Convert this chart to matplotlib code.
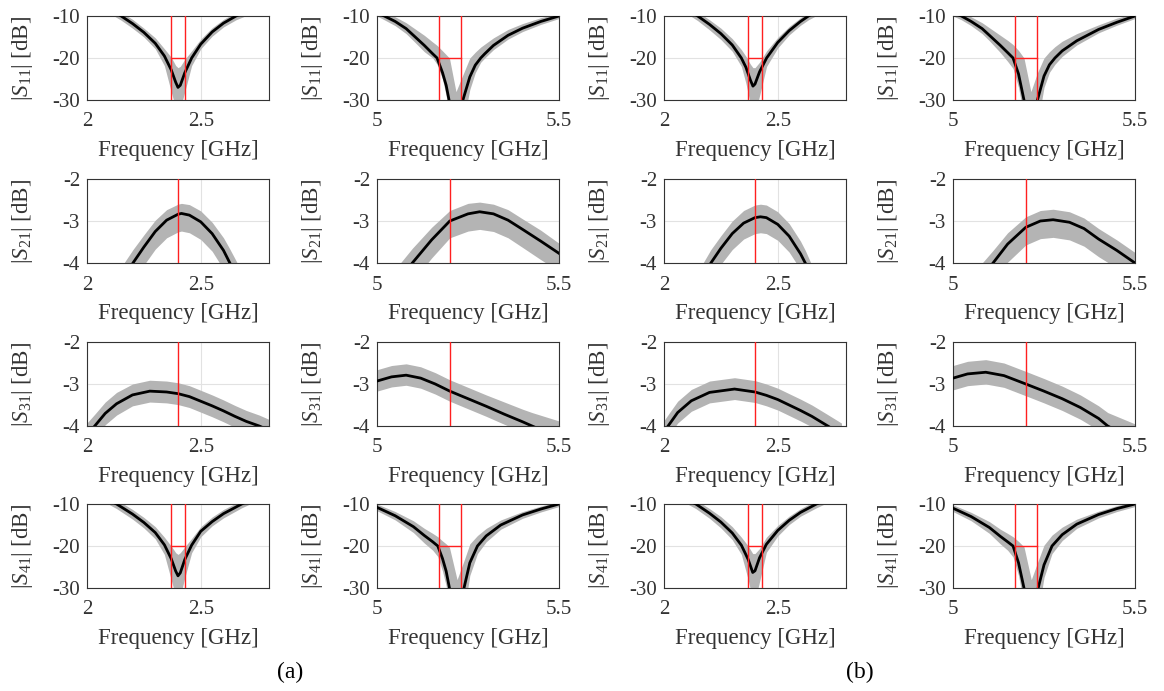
import matplotlib
matplotlib.use('Agg')
from matplotlib import pyplot as plt

plt.rcParams['font.family'] = 'Liberation Serif'
plt.rcParams['mathtext.fontset'] = 'custom'
plt.rcParams['mathtext.rm'] = 'Liberation Serif'
plt.rcParams['mathtext.it'] = 'Liberation Serif:italic'
plt.rcParams['axes.unicode_minus'] = False

# ---- (a) 2.4 GHz column ----
a24_s11_f = [2.10, 2.15, 2.20, 2.25, 2.30, 2.34, 2.37, 2.39, 2.40, 2.41, 2.43, 2.46, 2.50, 2.55, 2.60, 2.655, 2.70]
a24_s11_nom = [-8.3, -10.0, -11.8, -13.9, -16.5, -19.5, -22.8, -25.8, -27.0, -26.5, -23.5, -20.0, -16.7, -13.8, -11.7, -10.0, -8.8]
a24_s11_lo = [-9.4, -11.0, -12.9, -15.0, -17.8, -21.8, -28.0, -32.0, -33.0, -32.0, -28.0, -21.8, -17.8, -14.8, -12.6, -10.9, -9.9]
a24_s11_hi = [-7.3, -9.1, -10.8, -12.9, -15.2, -17.8, -19.8, -21.8, -22.3, -22.0, -20.3, -18.3, -15.5, -12.8, -10.8, -9.1, -7.8]

a24_s21_f = [2.10, 2.15, 2.202, 2.25, 2.30, 2.35, 2.40, 2.415, 2.45, 2.50, 2.55, 2.60, 2.628, 2.68, 2.72]
a24_s21_nom = [-5.0, -4.45, -4.0, -3.62, -3.25, -2.98, -2.84, -2.82, -2.86, -3.02, -3.3, -3.7, -4.0, -4.6, -5.1]
a24_s21_lo = [-5.5, -4.9, -4.45, -4.05, -3.67, -3.4, -3.26, -3.24, -3.28, -3.44, -3.72, -4.15, -4.45, -5.1, -5.6]
a24_s21_hi = [-4.6, -4.1, -3.68, -3.33, -2.98, -2.73, -2.6, -2.58, -2.61, -2.76, -3.03, -3.4, -3.67, -4.2, -4.7]

a24_s31_f = [1.98, 2.034, 2.08, 2.13, 2.20, 2.276, 2.35, 2.40, 2.45, 2.50, 2.55, 2.60, 2.65, 2.70, 2.757, 2.82]
a24_s31_nom = [-4.35, -4.0, -3.7, -3.47, -3.26, -3.17, -3.19, -3.23, -3.3, -3.41, -3.52, -3.64, -3.77, -3.89, -4.0, -4.15]
a24_s31_lo = [-4.65, -4.28, -3.97, -3.74, -3.52, -3.43, -3.45, -3.49, -3.56, -3.67, -3.78, -3.9, -4.03, -4.15, -4.26, -4.41]
a24_s31_hi = [-4.05, -3.72, -3.43, -3.2, -3.0, -2.91, -2.93, -2.97, -3.04, -3.15, -3.26, -3.38, -3.51, -3.63, -3.74, -3.89]

a24_s41_f = [2.08, 2.13, 2.20, 2.25, 2.30, 2.34, 2.37, 2.39, 2.40, 2.41, 2.43, 2.46, 2.50, 2.55, 2.60, 2.68, 2.72]
a24_s41_nom = [-8.6, -10.0, -12.4, -14.4, -16.8, -19.7, -23.0, -26.0, -27.1, -26.4, -23.2, -19.8, -16.5, -14.2, -12.3, -10.0, -9.0]
a24_s41_lo = [-9.6, -11.1, -13.6, -15.7, -18.3, -22.0, -28.0, -32.0, -33.0, -32.0, -27.5, -21.6, -17.8, -15.2, -13.3, -10.9, -9.9]
a24_s41_hi = [-7.7, -9.0, -11.3, -13.2, -15.4, -17.9, -20.0, -21.6, -22.0, -21.6, -20.2, -18.2, -15.4, -13.1, -11.3, -9.1, -8.1]

# ---- (a) 5.2 GHz column ----
a52_s11_f = [4.98, 5.00, 5.02, 5.05, 5.08, 5.10, 5.13, 5.153, 5.165, 5.18, 5.19, 5.199, 5.217, 5.236, 5.255, 5.27, 5.285, 5.296, 5.32, 5.36, 5.40, 5.45, 5.50]
a52_s11_nom = [-8.6, -9.2, -10.0, -11.3, -13.0, -14.6, -17.0, -19.0, -20.0, -23.5, -26.5, -30.5, -40.0, -30.0, -24.5, -21.7, -20.0, -19.0, -17.0, -14.6, -12.9, -11.3, -10.0]
a52_s11_lo = [-9.4, -10.0, -10.9, -12.3, -14.2, -15.9, -18.5, -20.0, -21.5, -25.0, -29.0, -33.0, -45.0, -36.0, -27.5, -23.5, -21.0, -20.0, -18.0, -15.5, -13.7, -12.0, -10.6]
a52_s11_hi = [-7.6, -8.2, -9.0, -10.2, -11.6, -12.8, -14.6, -16.2, -17.0, -18.3, -19.2, -20.0, -28.0, -24.0, -20.0, -18.6, -17.4, -16.7, -15.2, -13.2, -11.8, -10.4, -9.4]

a52_s21_f = [5.00, 5.05, 5.097, 5.15, 5.20, 5.25, 5.282, 5.32, 5.36, 5.40, 5.45, 5.50]
a52_s21_nom = [-5.2, -4.55, -4.0, -3.45, -3.0, -2.83, -2.78, -2.83, -2.98, -3.2, -3.48, -3.77]
a52_s21_lo = [-5.7, -5.0, -4.45, -3.88, -3.4, -3.24, -3.2, -3.25, -3.4, -3.63, -3.92, -4.2]
a52_s21_hi = [-4.75, -4.15, -3.65, -3.15, -2.75, -2.58, -2.55, -2.6, -2.73, -2.95, -3.22, -3.53]

a52_s31_f = [5.00, 5.04, 5.08, 5.12, 5.16, 5.20, 5.25, 5.30, 5.35, 5.40, 5.426, 5.50]
a52_s31_nom = [-2.93, -2.83, -2.79, -2.86, -3.0, -3.17, -3.35, -3.53, -3.72, -3.9, -4.0, -4.28]
a52_s31_lo = [-3.17, -3.07, -3.03, -3.1, -3.24, -3.41, -3.59, -3.77, -3.96, -4.14, -4.24, -4.52]
a52_s31_hi = [-2.66, -2.56, -2.52, -2.59, -2.73, -2.9, -3.08, -3.26, -3.43, -3.6, -3.68, -3.88]

a52_s41_f = [4.98, 5.00, 5.05, 5.10, 5.13, 5.153, 5.167, 5.18, 5.19, 5.199, 5.22, 5.239, 5.255, 5.276, 5.30, 5.34, 5.40, 5.45, 5.50]
a52_s41_nom = [-10.2, -10.8, -12.8, -15.4, -17.5, -19.0, -20.0, -23.0, -26.0, -30.0, -40.0, -30.0, -24.0, -20.0, -17.6, -15.0, -12.6, -11.2, -10.0]
a52_s41_lo = [-11.0, -11.6, -13.8, -16.8, -19.3, -21.0, -22.5, -26.0, -29.5, -34.0, -45.0, -36.0, -27.0, -21.8, -19.0, -16.0, -13.4, -11.9, -10.6]
a52_s41_hi = [-9.5, -10.0, -11.8, -14.0, -15.8, -17.0, -17.8, -18.8, -19.5, -20.3, -28.0, -23.5, -19.5, -17.5, -15.8, -13.8, -11.8, -10.5, -9.4]

# ---- (b) 2.4 GHz column ----
b24_s11_f = [2.10, 2.148, 2.20, 2.25, 2.30, 2.34, 2.36, 2.38, 2.391, 2.40, 2.42, 2.451, 2.50, 2.55, 2.60, 2.635, 2.68]
b24_s11_nom = [-8.4, -10.0, -12.0, -14.2, -16.9, -20.0, -22.2, -25.3, -26.7, -26.2, -23.3, -20.0, -16.3, -13.5, -11.3, -10.0, -8.7]
b24_s11_lo = [-9.4, -11.1, -13.3, -15.6, -18.4, -22.0, -26.0, -31.0, -33.0, -33.0, -29.0, -22.0, -17.6, -14.5, -12.2, -10.9, -9.6]
b24_s11_hi = [-7.5, -9.0, -10.9, -12.9, -15.4, -18.0, -19.6, -21.5, -22.3, -22.3, -21.0, -18.3, -15.1, -12.5, -10.4, -9.1, -7.8]

b24_s21_f = [2.10, 2.15, 2.206, 2.25, 2.30, 2.35, 2.40, 2.424, 2.45, 2.50, 2.55, 2.60, 2.621, 2.67, 2.72]
b24_s21_nom = [-5.1, -4.55, -4.0, -3.65, -3.3, -3.05, -2.92, -2.9, -2.92, -3.08, -3.36, -3.78, -4.0, -4.6, -5.2]
b24_s21_lo = [-5.5, -4.95, -4.4, -4.03, -3.68, -3.43, -3.3, -3.28, -3.3, -3.46, -3.74, -4.16, -4.38, -5.0, -5.6]
b24_s21_hi = [-4.75, -4.2, -3.68, -3.35, -3.0, -2.75, -2.62, -2.6, -2.62, -2.78, -3.06, -3.48, -3.7, -4.3, -4.9]

b24_s31_f = [1.98, 2.018, 2.06, 2.12, 2.20, 2.31, 2.40, 2.45, 2.50, 2.55, 2.60, 2.65, 2.72, 2.78]
b24_s31_nom = [-4.3, -4.0, -3.68, -3.4, -3.2, -3.12, -3.19, -3.27, -3.37, -3.5, -3.63, -3.77, -4.0, -4.2]
b24_s31_lo = [-4.55, -4.25, -3.93, -3.65, -3.45, -3.37, -3.44, -3.52, -3.62, -3.75, -3.88, -4.02, -4.25, -4.45]
b24_s31_hi = [-4.03, -3.73, -3.41, -3.13, -2.93, -2.85, -2.92, -3.0, -3.1, -3.23, -3.36, -3.5, -3.73, -3.93]

b24_s41_f = [2.09, 2.14, 2.20, 2.25, 2.30, 2.34, 2.37, 2.39, 2.40, 2.42, 2.45, 2.50, 2.55, 2.60, 2.67, 2.71]
b24_s41_nom = [-8.6, -10.0, -12.2, -14.3, -16.9, -19.8, -23.2, -26.3, -25.9, -22.8, -19.6, -16.3, -13.9, -12.0, -10.0, -9.0]
b24_s41_lo = [-9.6, -11.1, -13.4, -15.7, -18.5, -22.0, -28.0, -33.0, -33.0, -28.5, -21.5, -17.6, -14.9, -12.9, -10.9, -9.9]
b24_s41_hi = [-7.7, -9.0, -11.1, -13.0, -15.4, -17.9, -20.0, -21.8, -21.8, -20.6, -17.9, -15.1, -12.9, -11.1, -9.1, -8.1]

# ---- (b) 5.2 GHz column ----
b52_s11_f = [4.98, 5.00, 5.023, 5.05, 5.08, 5.10, 5.13, 5.150, 5.165, 5.18, 5.195, 5.214, 5.232, 5.25, 5.265, 5.28, 5.30, 5.34, 5.40, 5.45, 5.50]
b52_s11_nom = [-8.6, -9.2, -10.0, -11.3, -13.0, -14.6, -17.0, -18.7, -20.0, -23.8, -30.0, -40.0, -30.0, -24.3, -21.6, -20.0, -18.3, -15.9, -13.2, -11.5, -10.0]
b52_s11_lo = [-9.4, -10.0, -10.9, -12.3, -14.2, -15.9, -18.7, -20.8, -22.5, -27.0, -34.0, -45.0, -36.0, -27.0, -23.4, -21.5, -19.6, -16.9, -14.0, -12.2, -10.6]
b52_s11_hi = [-7.6, -8.2, -9.0, -10.2, -11.6, -12.8, -14.6, -15.8, -16.8, -18.2, -20.0, -28.0, -23.5, -20.0, -18.5, -17.3, -16.0, -14.2, -12.1, -10.5, -9.4]

b52_s21_f = [5.05, 5.11, 5.15, 5.20, 5.24, 5.275, 5.32, 5.36, 5.40, 5.45, 5.50, 5.55]
b52_s21_nom = [-4.65, -4.0, -3.55, -3.15, -3.0, -2.97, -3.03, -3.18, -3.43, -3.7, -4.0, -4.35]
b52_s21_lo = [-5.1, -4.45, -3.98, -3.57, -3.42, -3.39, -3.45, -3.6, -3.85, -4.12, -4.42, -4.77]
b52_s21_hi = [-4.3, -3.7, -3.28, -2.9, -2.75, -2.72, -2.78, -2.93, -3.18, -3.45, -3.75, -4.1]

b52_s31_f = [5.00, 5.04, 5.09, 5.14, 5.20, 5.25, 5.30, 5.35, 5.40, 5.425, 5.50]
b52_s31_nom = [-2.86, -2.76, -2.72, -2.8, -3.0, -3.17, -3.35, -3.56, -3.82, -4.0, -4.35]
b52_s31_lo = [-3.14, -3.04, -3.0, -3.08, -3.28, -3.45, -3.63, -3.84, -4.1, -4.28, -4.63]
b52_s31_hi = [-2.56, -2.46, -2.42, -2.5, -2.7, -2.87, -3.05, -3.26, -3.52, -3.68, -3.95]

b52_s41_f = [4.98, 5.00, 5.05, 5.10, 5.13, 5.150, 5.165, 5.18, 5.195, 5.215, 5.234, 5.25, 5.272, 5.30, 5.34, 5.40, 5.45, 5.50]
b52_s41_nom = [-10.4, -11.0, -13.0, -15.6, -17.7, -19.0, -20.0, -24.0, -30.0, -40.0, -30.0, -24.5, -20.0, -17.3, -14.8, -12.5, -11.1, -10.0]
b52_s41_lo = [-11.2, -11.8, -14.0, -17.0, -19.5, -21.0, -22.6, -27.0, -34.0, -45.0, -36.0, -27.5, -21.8, -18.7, -15.8, -13.3, -11.8, -10.6]
b52_s41_hi = [-9.7, -10.2, -12.0, -14.2, -16.0, -17.0, -17.8, -18.9, -20.2, -28.0, -23.5, -19.8, -17.4, -15.5, -13.6, -11.7, -10.4, -9.4]

# spec markers (red)
spec_24 = [2.37, 2.43]
spec_52 = [5.17, 5.23]
centre_24 = 2.4
centre_52 = 5.2
spec_level = -20

row_names = ['11', '21', '31', '41']
col_names = ['a24', 'a52', 'b24', 'b52']

# axes placement in pixels (left, top) on a 1164x691 canvas
W, H = 1164, 691
col_left = [87, 377, 664, 953]
row_top = [16, 179, 342, 504]
ax_w, ax_h = 182, 84

fig = plt.figure(figsize=(W / 100, H / 100), dpi=100)

data = globals()
for r, sp in enumerate(row_names):
    for c, cn in enumerate(col_names):
        l = col_left[c] / W
        b = 1 - (row_top[r] + ax_h) / H
        ax = fig.add_axes([l, b, ax_w / W, ax_h / H])

        f = data[f'{cn}_s{sp}_f']
        nom = data[f'{cn}_s{sp}_nom']
        lo = data[f'{cn}_s{sp}_lo']
        hi = data[f'{cn}_s{sp}_hi']

        is24 = cn.endswith('24')
        ax.fill_between(f, lo, hi, color='#b4b4b4', lw=0, zorder=2)
        ax.plot(f, nom, color='k', lw=2.0, zorder=3)

        if sp in ('11', '41'):
            s = spec_24 if is24 else spec_52
            for x in s:
                ax.axvline(x, color='#ff2020', lw=1.0, zorder=4)
            ax.plot(s, [spec_level, spec_level], color='#ff2020', lw=1.0, zorder=4)
            ax.set_ylim(-30, -10)
            ax.set_yticks([-30, -20, -10])
        else:
            ax.axvline(centre_24 if is24 else centre_52, color='#ff2020', lw=1.0, zorder=4)
            ax.set_ylim(-4, -2)
            ax.set_yticks([-4, -3, -2])

        if is24:
            ax.set_xlim(2, 2.8)
            ax.set_xticks([2, 2.5])
            ax.set_xticklabels(['2', '2.5'])
        else:
            ax.set_xlim(5, 5.5)
            ax.set_xticks([5, 5.5])
            ax.set_xticklabels(['5', '5.5'])

        ax.grid(True, color='#e2e2e2', lw=0.8)
        ax.set_axisbelow(True)
        ax.tick_params(length=0, labelsize=15, colors='#333333')
        ax.tick_params(axis='x', pad=9)
        ax.tick_params(axis='y', pad=5)
        for spn in ax.spines.values():
            spn.set_color('#333333')
            spn.set_linewidth(0.8)

        ax.set_xlabel('Frequency [GHz]', fontsize=16.5, color='#333333')
        ax.xaxis.set_label_coords(0.5, -0.48)
        ax.xaxis.label.set_va('top')
        ax.set_ylabel(r'$|S_{%s}|$ [dB]' % sp, fontsize=16.5, color='#333333')
        ax.yaxis.set_label_coords(-0.285, 0.5)

fig.text(290 / W, 1 - 672 / H, '(a)', ha='center', va='center', fontsize=17)
fig.text(860 / W, 1 - 672 / H, '(b)', ha='center', va='center', fontsize=17)

fig.savefig('out.png', dpi=100)
